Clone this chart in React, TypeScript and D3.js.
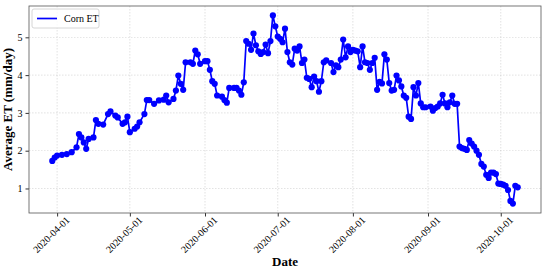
import * as d3 from "d3";
import { useEffect, useRef } from "react";

// daily corn ET
const dates = [
  "2020-03-30", "2020-03-31", "2020-04-01", "2020-04-03", "2020-04-05", "2020-04-07", "2020-04-09",
  "2020-04-10", "2020-04-11", "2020-04-12", "2020-04-13", "2020-04-14", "2020-04-16", "2020-04-17",
  "2020-04-18", "2020-04-20", "2020-04-22", "2020-04-23", "2020-04-25", "2020-04-26", "2020-04-28",
  "2020-04-29", "2020-04-30", "2020-05-01", "2020-05-03", "2020-05-04", "2020-05-05", "2020-05-07",
  "2020-05-08", "2020-05-09", "2020-05-11", "2020-05-13", "2020-05-15", "2020-05-16", "2020-05-17",
  "2020-05-19", "2020-05-20", "2020-05-21", "2020-05-22", "2020-05-23", "2020-05-24", "2020-05-26",
  "2020-05-27", "2020-05-28", "2020-05-29", "2020-05-30", "2020-06-01", "2020-06-02", "2020-06-03",
  "2020-06-04", "2020-06-05", "2020-06-06", "2020-06-08", "2020-06-09", "2020-06-10", "2020-06-11",
  "2020-06-13", "2020-06-14", "2020-06-15", "2020-06-16", "2020-06-17", "2020-06-18", "2020-06-19",
  "2020-06-20", "2020-06-21", "2020-06-22", "2020-06-23", "2020-06-24", "2020-06-25", "2020-06-26",
  "2020-06-27", "2020-06-28", "2020-06-29", "2020-06-30", "2020-07-01", "2020-07-02", "2020-07-03",
  "2020-07-04", "2020-07-05", "2020-07-06", "2020-07-07", "2020-07-08", "2020-07-09", "2020-07-10",
  "2020-07-11", "2020-07-12", "2020-07-13", "2020-07-14", "2020-07-15", "2020-07-16", "2020-07-17",
  "2020-07-18", "2020-07-19", "2020-07-20", "2020-07-21", "2020-07-23", "2020-07-24", "2020-07-25",
  "2020-07-26", "2020-07-27", "2020-07-28", "2020-07-29", "2020-07-30", "2020-07-31", "2020-08-01",
  "2020-08-02", "2020-08-03", "2020-08-04", "2020-08-05", "2020-08-06", "2020-08-07", "2020-08-08",
  "2020-08-09", "2020-08-10", "2020-08-11", "2020-08-12", "2020-08-13", "2020-08-14", "2020-08-15",
  "2020-08-16", "2020-08-17", "2020-08-18", "2020-08-19", "2020-08-20", "2020-08-21", "2020-08-22",
  "2020-08-23", "2020-08-24", "2020-08-25", "2020-08-26", "2020-08-27", "2020-08-28", "2020-08-29",
  "2020-08-30", "2020-08-31", "2020-09-02", "2020-09-03", "2020-09-04", "2020-09-05", "2020-09-06",
  "2020-09-07", "2020-09-08", "2020-09-09", "2020-09-10", "2020-09-11", "2020-09-12", "2020-09-13",
  "2020-09-14", "2020-09-15", "2020-09-16", "2020-09-17", "2020-09-18", "2020-09-19", "2020-09-20",
  "2020-09-21", "2020-09-22", "2020-09-23", "2020-09-24", "2020-09-25", "2020-09-26", "2020-09-27",
  "2020-09-28", "2020-09-29", "2020-09-30", "2020-10-01", "2020-10-02", "2020-10-03", "2020-10-04",
  "2020-10-05", "2020-10-06", "2020-10-07", "2020-10-08",
];

const et = [
  1.73, 1.82, 1.87, 1.89, 1.91, 1.96, 2.09,
  2.44, 2.35, 2.22, 2.05, 2.31, 2.35, 2.81,
  2.71, 2.69, 2.97, 3.04, 2.93, 2.88, 2.71,
  2.75, 2.90, 2.49, 2.58, 2.64, 2.75, 2.97,
  3.34, 3.34, 3.24, 3.33, 3.35, 3.46, 3.28,
  3.37, 3.59, 3.99, 3.77, 3.61, 4.34, 4.34,
  4.30, 4.65, 4.55, 4.30, 4.37, 4.37, 4.14,
  3.84, 3.77, 3.46, 3.43, 3.34, 3.27, 3.66,
  3.66, 3.66, 3.59, 3.48, 3.81, 4.90, 4.83,
  4.67, 5.10, 4.79, 4.63, 4.56, 4.61, 4.81,
  4.58, 4.90, 5.58, 5.29, 5.02, 4.96, 4.87,
  5.23, 4.61, 4.34, 4.28, 4.70, 4.65, 4.76,
  4.32, 4.41, 3.93, 3.90, 3.68, 3.96, 3.84,
  3.56, 3.84, 4.34, 4.39, 4.32, 4.08, 4.26,
  4.21, 4.41, 4.94, 4.47, 4.76, 4.61, 4.67,
  4.65, 4.63, 4.21, 4.76, 4.34, 4.32, 4.14,
  4.32, 4.46, 3.61, 3.82, 3.78, 4.55, 4.41,
  3.79, 3.59, 3.61, 3.99, 3.86, 3.70, 3.46,
  3.40, 2.90, 2.84, 3.68, 3.46, 3.79, 3.25,
  3.15, 3.15, 3.17, 3.06, 3.13, 3.17, 3.25,
  3.48, 3.25, 3.15, 3.28, 3.46, 3.24, 3.24,
  2.11, 2.07, 2.05, 2.02, 2.28, 2.19, 2.11,
  2.00, 1.89, 1.65, 1.58, 1.36, 1.28, 1.42,
  1.42, 1.38, 1.13, 1.12, 1.10, 1.07, 0.96,
  0.67, 0.60, 1.07, 1.03,
];

const yTicks = [1, 2, 3, 4, 5];
const xTicks = ["2020-04-01", "2020-05-01", "2020-06-01", "2020-07-01", "2020-08-01", "2020-09-01", "2020-10-01"];
const seriesName = "Corn ET";

export default function App() {
  const ref = useRef<SVGSVGElement>(null);

  useEffect(() => {
    const svg = d3.select(ref.current);
    svg.selectAll("*").remove();

    const W = 550, H = 270;
    const margin = { top: 6, right: 9, bottom: 57, left: 29 };
    const width = W - margin.left - margin.right;
    const height = H - margin.top - margin.bottom;
    const font = "'Liberation Serif', 'Times New Roman', serif";

    const parse = d3.timeParse("%Y-%m-%d");
    const data = dates.map((d, i) => ({ date: parse(d) as Date, v: et[i] }));

    // matplotlib-style 5% padding
    const [d0, d1] = d3.extent(data, d => d.date) as [Date, Date];
    const padT = (d1.getTime() - d0.getTime()) * 0.05;
    const [v0, v1] = d3.extent(data, d => d.v) as [number, number];
    const padV = (v1 - v0) * 0.05;

    const x = d3.scaleTime()
      .domain([new Date(d0.getTime() - padT), new Date(d1.getTime() + padT)])
      .range([0, width]);
    const y = d3.scaleLinear()
      .domain([v0 - padV, v1 + padV])
      .range([height, 0]);

    const g = svg.append("g").attr("transform", `translate(${margin.left},${margin.top})`);

    // grid
    g.append("g")
      .selectAll("line")
      .data(xTicks.map(t => parse(t) as Date))
      .join("line")
      .attr("x1", d => x(d)).attr("x2", d => x(d))
      .attr("y1", 0).attr("y2", height)
      .attr("stroke", "#b0b0b0").attr("stroke-width", 0.6)
      .attr("stroke-dasharray", "1.5,1.5").attr("opacity", 0.6);
    g.append("g")
      .selectAll("line")
      .data(yTicks)
      .join("line")
      .attr("x1", 0).attr("x2", width)
      .attr("y1", d => y(d)).attr("y2", d => y(d))
      .attr("stroke", "#b0b0b0").attr("stroke-width", 0.6)
      .attr("stroke-dasharray", "1.5,1.5").attr("opacity", 0.6);

    // X axis
    const xAxis = g.append("g")
      .attr("transform", `translate(0,${height})`)
      .attr("font-family", font)
      .call(d3.axisBottom(x)
        .tickValues(xTicks.map(t => parse(t) as Date))
        .tickFormat(d => d3.timeFormat("%Y-%m-%d")(d as Date))
        .tickSize(3.5).tickSizeOuter(0));
    xAxis.attr("font-family", font);
    xAxis.select(".domain").remove();
    xAxis.selectAll("line").attr("stroke", "#333");
    xAxis.selectAll("text")
      .attr("font-family", font).attr("font-size", 10).attr("fill", "#000")
      .attr("transform", "translate(3,-2)rotate(-45)")
      .style("text-anchor", "end");

    // Y axis
    const yAxis = g.append("g")
      .call(d3.axisLeft(y).tickValues(yTicks).tickFormat(d3.format("d")).tickSize(3.5).tickSizeOuter(0));
    yAxis.attr("font-family", font);
    yAxis.select(".domain").remove();
    yAxis.selectAll("line").attr("stroke", "#333");
    yAxis.selectAll("text").attr("font-family", font).attr("font-size", 10).attr("fill", "#000");

    // frame
    g.append("rect")
      .attr("width", width).attr("height", height)
      .attr("fill", "none").attr("stroke", "#555").attr("stroke-width", 0.8);

    // series
    g.append("path")
      .datum(data)
      .attr("fill", "none")
      .attr("stroke", "#0000ff")
      .attr("stroke-width", 1.7)
      .attr("d", d3.line<{ date: Date; v: number }>().x(d => x(d.date)).y(d => y(d.v)));
    g.append("g")
      .selectAll("circle")
      .data(data)
      .join("circle")
      .attr("cx", d => x(d.date))
      .attr("cy", d => y(d.v))
      .attr("r", 3.1)
      .attr("fill", "#0000ff");

    // legend
    const lg = g.append("g").attr("transform", "translate(3,3)");
    lg.append("rect")
      .attr("width", 67).attr("height", 19).attr("rx", 2)
      .attr("fill", "#fff").attr("fill-opacity", 0.8)
      .attr("stroke", "#ccc").attr("stroke-width", 0.8);
    lg.append("line")
      .attr("x1", 5).attr("x2", 25).attr("y1", 9.5).attr("y2", 9.5)
      .attr("stroke", "#0000ff").attr("stroke-width", 1.7);
    lg.append("text")
      .attr("x", 32).attr("y", 13)
      .attr("font-family", font).attr("font-size", 10)
      .text(seriesName);

    // axis labels
    svg.append("text")
      .attr("x", margin.left + width / 2).attr("y", H - 4)
      .attr("text-anchor", "middle")
      .attr("font-family", font).attr("font-size", 13).attr("font-weight", "bold")
      .text("Date");
    svg.append("text")
      .attr("transform", `translate(12,${margin.top + height / 2})rotate(-90)`)
      .attr("text-anchor", "middle")
      .attr("font-family", font).attr("font-size", 13).attr("font-weight", "bold")
      .text("Average ET (mm/day)");
  }, []);

  return (
    <svg ref={ref} width={550} height={270}
      style={{ position: "absolute", left: 0, top: 0, background: "#fff" }} />
  );
}
